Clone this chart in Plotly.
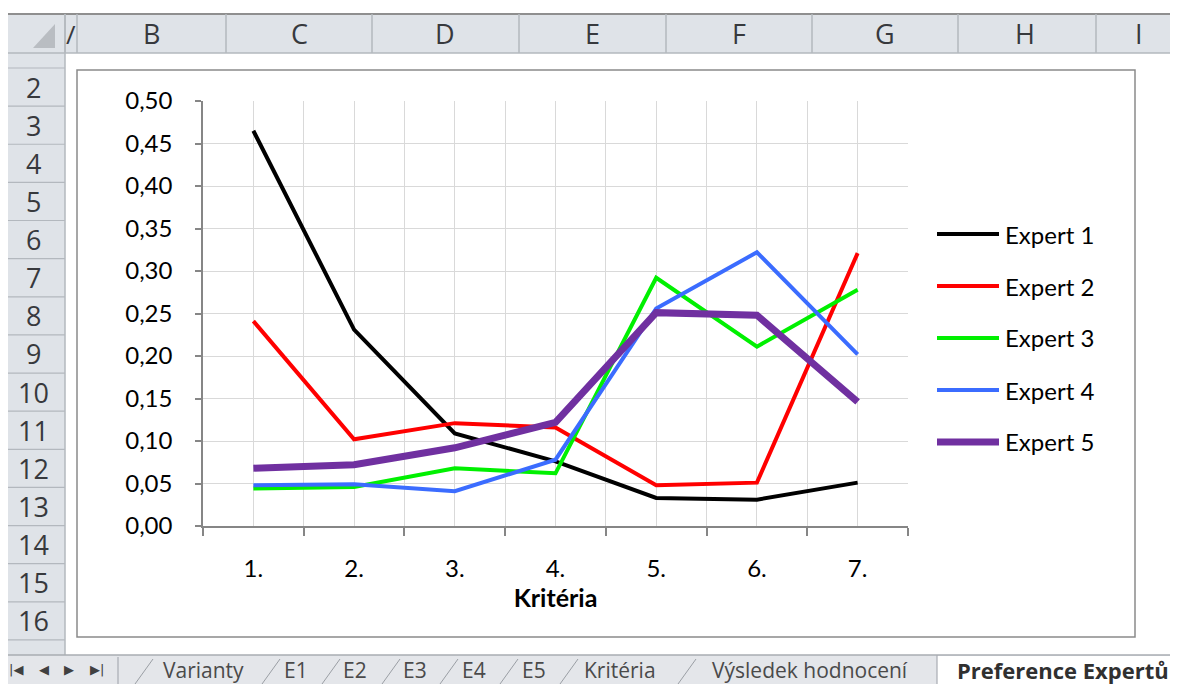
import plotly.graph_objects as go

# page body has an 8px margin, so the figure covers reference pixels 8..1178 x 8..684
OFF = 8
W, H = 1178 - OFF, 684 - OFF

# ---------------- data ----------------
categories = [1, 2, 3, 4, 5, 6, 7]
category_labels = ["1.", "2.", "3.", "4.", "5.", "6.", "7."]
series_names = ["Expert 1", "Expert 2", "Expert 3", "Expert 4", "Expert 5"]
expert1 = [0.465, 0.231, 0.109, 0.076, 0.033, 0.031, 0.051]
expert2 = [0.241, 0.102, 0.121, 0.116, 0.048, 0.051, 0.321]
expert3 = [0.044, 0.046, 0.068, 0.062, 0.292, 0.211, 0.278]
expert4 = [0.048, 0.049, 0.041, 0.078, 0.256, 0.322, 0.202]
expert5 = [0.068, 0.072, 0.092, 0.122, 0.251, 0.248, 0.146]
series_values = [expert1, expert2, expert3, expert4, expert5]
series_colors = ["#000000", "#ff0000", "#00f000", "#3b6cff", "#7030a0"]
series_widths = [4, 4, 4, 4, 7]

column_letters = ["B", "C", "D", "E", "F", "G", "H", "I"]
row_numbers = list(range(2, 17))
sheet_tabs = ["Varianty", "E1", "E2", "E3", "E4", "E5", "Kritéria", "Výsledek hodnocení"]
active_tab = "Preference Expertů"
x_title = "Kritéria"


def X(px):
    return (px - OFF) / W


def Y(py):
    return 1 - (py - OFF) / H


FONT = "Lato"
CHROME_FONT = "Open Sans"
HDR_BG = "#dfe3e8"
HDR_LINE = "#b3b8be"
TXT = "#37393d"

fig = go.Figure()
for name, vals, col, lw in zip(series_names, series_values, series_colors, series_widths):
    fig.add_trace(go.Scatter(x=categories, y=vals, mode="lines", name=name,
                             line=dict(color=col, width=lw), showlegend=False))

shapes = []
annotations = []


def line(x0, y0, x1, y1, color, width):
    shapes.append(dict(type="line", xref="paper", yref="paper", x0=X(x0), x1=X(x1), y0=Y(y0), y1=Y(y1),
                       line=dict(color=color, width=width)))


def rect(x0, y0, x1, y1, fill, lc=None, lw=0):
    shapes.append(dict(type="rect", xref="paper", yref="paper", x0=X(x0), x1=X(x1), y0=Y(y1), y1=Y(y0),
                       line=dict(color=lc or fill, width=lw), fillcolor=fill, layer="below"))


def text(t, x, y, size, family=CHROME_FONT, color=TXT, xanchor="center"):
    annotations.append(dict(text=t, x=X(x), y=Y(y), xref="paper", yref="paper", showarrow=False,
                            xanchor=xanchor, yanchor="middle",
                            font=dict(family=family, size=size, color=color)))


# chart area frame
rect(77, 70, 1135, 637, "white", "#8a8a8a", 1.5)

# column header bar
rect(8, 14, 1178, 53, HDR_BG)
line(8, 14, 1178, 14, "#8f8f8f", 2)
line(8, 53, 1178, 53, HDR_LINE, 1.5)
for xb in [65, 77, 226, 372, 519, 666, 812, 958, 1096]:
    line(xb, 14, xb, 53, HDR_LINE, 1.5)
col_centers = [151, 299, 445, 592, 739, 885, 1025, 1139]
for letter, xc in zip(column_letters, col_centers):
    text(letter, xc, 34, 27)
text("/", 71, 34, 26)

# row header
rect(8, 53, 65, 655, HDR_BG)
shapes.append(dict(type="path", xref="paper", yref="paper",
                   path=f"M{X(55)},{Y(48)} L{X(55)},{Y(24)} L{X(33)},{Y(48)} Z",
                   fillcolor="#b9bdc2", line=dict(width=0), layer="below"))
line(65, 14, 65, 655, HDR_LINE, 1.5)
row_h = 38.13
for k in range(0, 16):
    yb = 68 + row_h * k
    line(8, yb, 65, yb, HDR_LINE, 1.2)
for r in row_numbers:
    yc = 68 + row_h * (r - 2) + row_h / 2
    text(str(r), 33, yc, 27)

# sheet tab bar
rect(8, 655, 1178, 684, "#e4e6ea")
line(8, 655, 1178, 655, "#a8acb2", 1.5)
rect(937, 656, 1178, 684, "white")
line(937, 655, 937, 684, "#a8acb2", 1.2)
line(118, 657, 118, 684, "#a8acb2", 1.2)
for sx in [135, 262, 322, 382, 440, 500, 560, 678]:
    line(sx, 684, sx + 18, 659, "#9a9ea4", 1)
nav = [("|◀", 16), ("◀", 44), ("▶", 69), ("▶|", 97)]
for t, nx in nav:
    text(t, nx, 669, 13, family="DejaVu Sans", color="#404040")
tab_centers = [204, 296, 355, 415, 474, 534, 620, 810]
for t, tx in zip(sheet_tabs, tab_centers):
    text(t, tx, 670, 21, color="#4a4a4a")
text("<b>" + active_tab + "</b>", 1063, 670, 22, color="#303030")

# manual legend
for i, (name, col, lw) in enumerate(zip(series_names, series_colors, series_widths)):
    ly = 234 + 52 * i
    line(937, ly, 999, ly, col, lw)
    text(name, 1003, ly, 24, family=FONT, color="#000000", xanchor="left")

fig.update_layout(
    width=W, height=H,
    margin=dict(l=0, r=0, t=0, b=0, pad=0),
    paper_bgcolor="white", plot_bgcolor="white",
    separators=",.",
    font=dict(family=FONT, size=24, color="#000000"),
    shapes=shapes, annotations=annotations,
    xaxis=dict(domain=[X(203), X(908)], range=[0.5, 7.5], tickvals=categories, ticktext=category_labels,
               automargin=False,
               ticks="", showgrid=True, gridcolor="#d9d9d9", gridwidth=1,
               minor=dict(tickvals=[c + 0.5 for c in [0] + categories], ticks="outside", ticklen=8,
                          tickcolor="#868686", tickwidth=1.5, showgrid=True, gridcolor="#d9d9d9", gridwidth=1),
               showline=True, linecolor="#868686", linewidth=1.5, zeroline=False,
               ticklabelstandoff=20, tickfont=dict(family=FONT, size=24),
               title=dict(text="<b>" + x_title + "</b>", font=dict(family=FONT, size=25), standoff=9)),
    yaxis=dict(domain=[Y(526), Y(101)], range=[0, 0.5], dtick=0.05, tick0=0, tickformat=".2f",
               automargin=False,
               ticks="outside", ticklen=6, tickcolor="#868686", tickwidth=1.5,
               showgrid=True, gridcolor="#d9d9d9", gridwidth=1,
               showline=True, linecolor="#868686", linewidth=1.5, zeroline=False,
               ticklabelstandoff=18, tickfont=dict(family=FONT, size=24)),
)

fig.write_html("out.html")
